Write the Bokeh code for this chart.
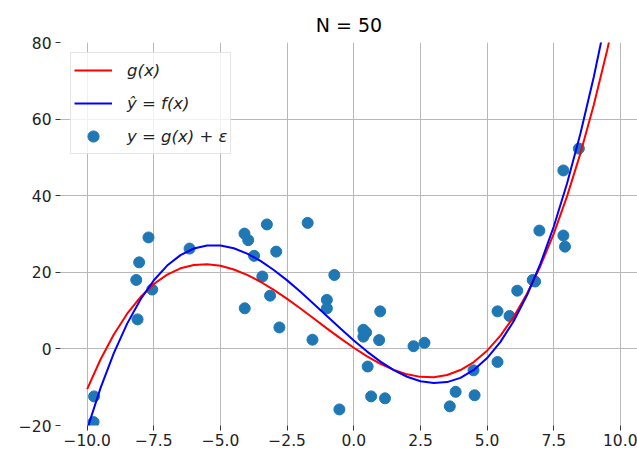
from bokeh.plotting import figure
from bokeh.models import Range1d, FixedTicker, Legend, LegendItem
from bokeh.embed import file_html
from bokeh.resources import INLINE

# ---- data ----
x_line = [-10.0, -9.5, -9.0, -8.5, -8.0, -7.5, -7.0, -6.5, -6.0, -5.5, -5.0, -4.5, -4.0, -3.5,
          -3.0, -2.5, -2.0, -1.5, -1.0, -0.5, 0.0, 0.5, 1.0, 1.5, 2.0, 2.5, 3.0, 3.5, 4.0, 4.5,
          5.0, 5.5, 6.0, 6.5, 7.0, 7.5, 8.0, 8.5, 9.0, 9.5, 10.0]
g_vals = [-10.52, -2.77, 3.78, 9.19, 13.55, 16.93, 19.40, 21.04, 21.92, 22.11, 21.70, 20.74,
          19.33, 17.53, 15.41, 13.06, 10.54, 7.93, 5.30, 2.74, 0.30, -1.93, -3.88, -5.47, -6.64,
          -7.30, -7.38, -6.81, -5.52, -3.43, -0.46, 3.47, 8.40, 14.45, 21.66, 30.11, 39.89,
          51.06, 63.70, 77.89, 93.68]
f_vals = [-20.97, -10.24, -1.09, 6.60, 12.91, 17.93, 21.76, 24.49, 26.21, 27.02, 27.01, 26.27,
          24.89, 22.98, 20.61, 17.89, 14.91, 11.75, 8.52, 5.31, 2.20, -0.70, -3.31, -5.53, -7.27,
          -8.44, -8.93, -8.67, -7.56, -5.49, -2.39, 1.84, 7.29, 14.07, 22.26, 31.95, 43.25,
          56.22, 70.99, 87.62, 106.23]
x_pts = [-9.74, -9.76, -8.11, -8.16, -8.05, -7.70, -7.56, -6.16, -4.10, -3.96, -3.74, -4.09,
         -3.26, -1.73, -2.91, -3.43, -3.14, -2.79, -0.73, -1.01, -1.01, -1.55, 0.36, 0.46, 0.36,
         0.99, 0.95, 2.24, 2.65, 0.52, 0.65, 1.17, -0.54, 3.60, 3.82, 4.53, 4.49, 5.39, 5.39,
         5.84, 6.13, 6.71, 6.80, 6.96, 7.86, 7.92, 7.86, 8.44]
y_pts = [-12.4, -19.1, 7.7, 18.0, 22.6, 29.1, 15.5, 26.2, 30.1, 28.4, 24.3, 10.6, 32.5, 32.9,
         25.4, 18.9, 13.9, 5.6, 19.3, 12.8, 10.6, 2.4, 5.0, 4.3, 3.2, 9.8, 2.3, 0.7, 1.6, -4.6,
         -12.4, -12.9, -15.8, -15.0, -11.2, -12.1, -5.6, -3.4, 9.8, 8.6, 15.2, 18.0, 17.6, 30.9,
         29.6, 26.7, 46.6, 52.3]
x_ticks = [-10.0, -7.5, -5.0, -2.5, 0.0, 2.5, 5.0, 7.5, 10.0]
x_tick_labels = ["\u221210.0", "\u22127.5", "\u22125.0", "\u22122.5", "0.0", "2.5", "5.0", "7.5", "10.0"]
y_ticks = [-20, 0, 20, 40, 60, 80]
y_tick_labels = ["\u221220", "0", "20", "40", "60", "80"]
title_text = "N = 50"
labels = ["g(x)", "\u0177 = f(x)", "y = g(x) + \u03b5"]

FONT = "DejaVu Sans"

p = figure(width=637, height=450, output_backend="svg", toolbar_location=None,
           x_range=Range1d(-11.0, 10.64), y_range=Range1d(-20, 80),
           min_border_left=60, min_border_right=0, min_border_top=42, min_border_bottom=25,
           title=title_text)
p.outline_line_color = None
p.background_fill_color = "white"
p.border_fill_color = "white"

p.title.text_font = FONT
p.title.text_font_size = "19px"
p.title.text_font_style = "normal"
p.title.text_color = "black"
p.title.align = "center"
p.title.offset = 5
p.title.standoff = 14

for ax in (p.xaxis[0], p.yaxis[0]):
    ax.axis_line_color = None
    ax.major_tick_out = 5
    ax.major_tick_in = 0
    ax.minor_tick_out = 0
    ax.minor_tick_in = 0
    ax.major_tick_line_color = "#333333"
    ax.major_label_text_font = FONT
    ax.major_label_text_font_size = "15.5px"
    ax.major_label_text_color = "#222222"
p.xaxis[0].ticker = FixedTicker(ticks=x_ticks)
p.yaxis[0].ticker = FixedTicker(ticks=y_ticks)
p.xaxis[0].major_label_overrides = {t: l for t, l in zip(x_ticks, x_tick_labels)}
p.yaxis[0].major_label_overrides = {t: l for t, l in zip(y_ticks, y_tick_labels)}
p.xaxis[0].major_label_standoff = 3
p.yaxis[0].major_label_standoff = 4

for g in (p.xgrid[0], p.ygrid[0]):
    g.grid_line_color = "#b8b8b8"
    g.grid_line_width = 1

r_sc = p.scatter(x_pts, y_pts, size=11, color="#1f77b4", line_color="#1f77b4")
r_red = p.line(x_line, g_vals, line_color="#ff0000", line_width=2)
r_blue = p.line(x_line, f_vals, line_color="#0000ff", line_width=2)

legend = Legend(items=[LegendItem(label=labels[0], renderers=[r_red]),
                       LegendItem(label=labels[1], renderers=[r_blue]),
                       LegendItem(label=labels[2], renderers=[r_sc])],
                location="top_left", margin=10, padding=3, spacing=5,
                glyph_width=38, glyph_height=28, label_height=28, label_standoff=15,
                label_text_font=FONT, label_text_font_style="italic",
                label_text_font_size="16.5px", label_text_color="#222222",
                border_line_color="#cccccc", border_line_width=1,
                background_fill_color="white", background_fill_alpha=0.8)
p.add_layout(legend)

open("out.html", "w").write(file_html(p, INLINE))
